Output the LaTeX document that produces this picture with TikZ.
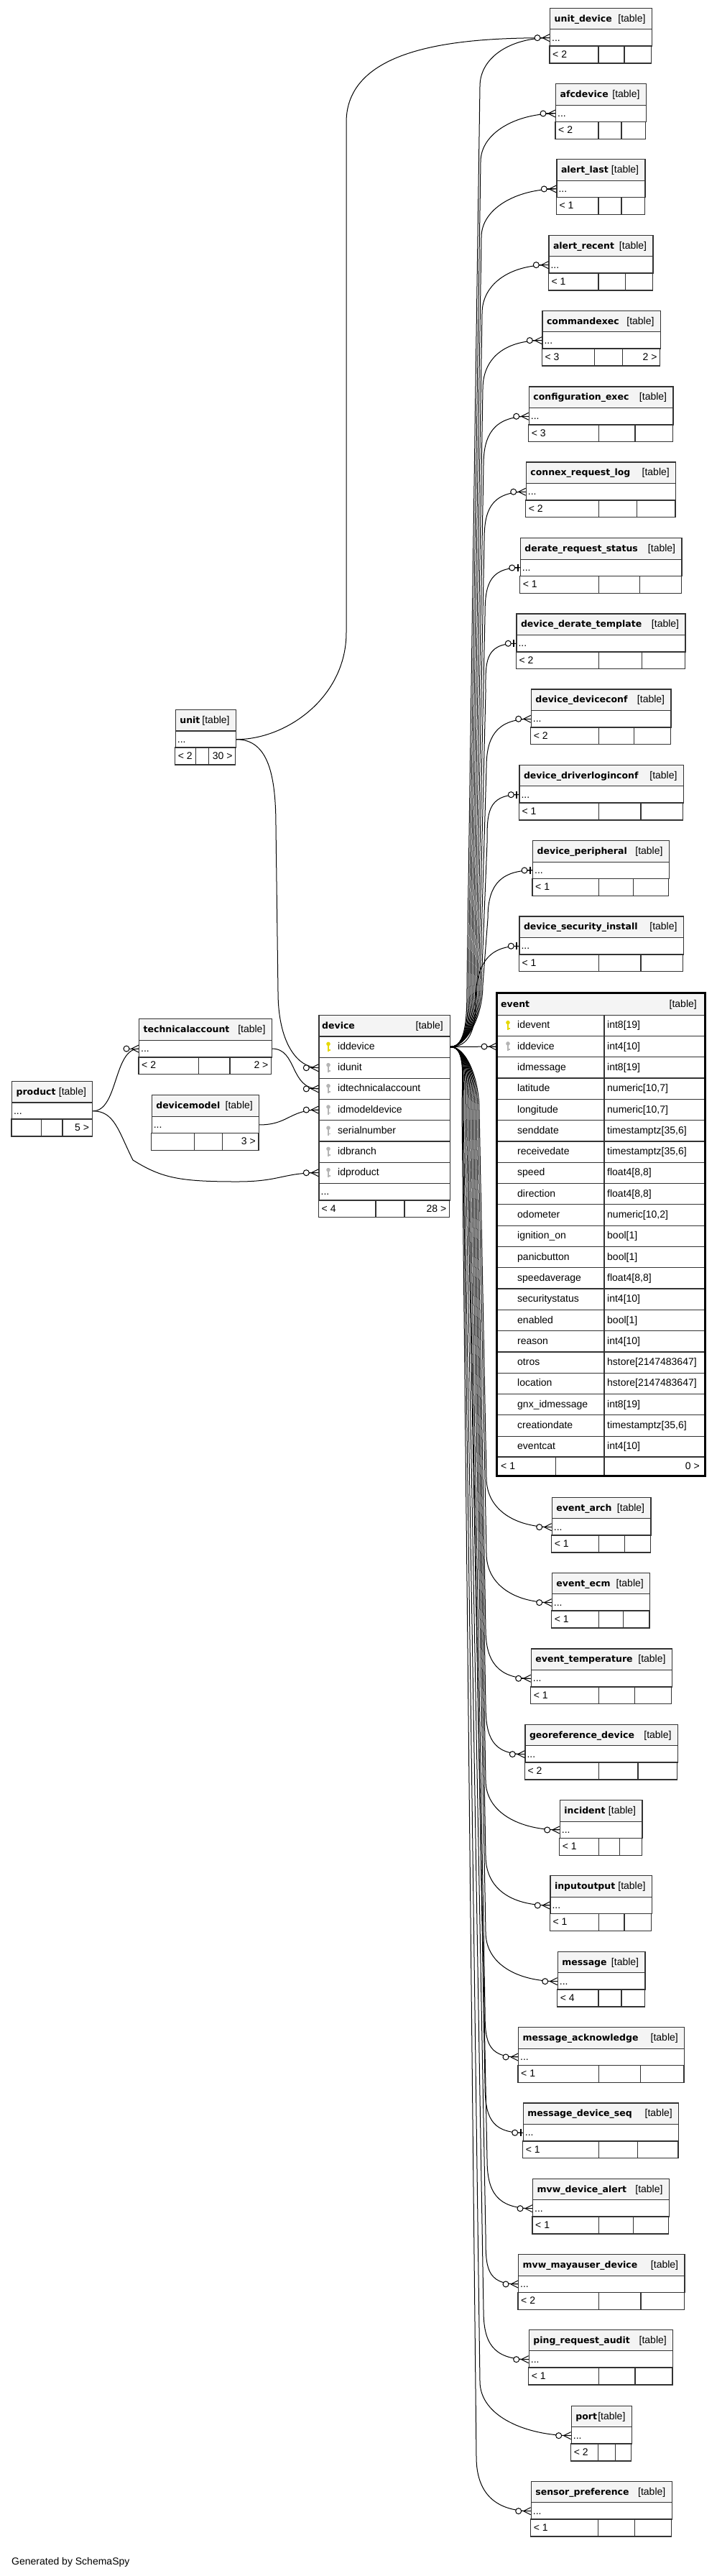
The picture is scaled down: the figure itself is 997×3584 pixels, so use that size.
\documentclass[tikz,border=0pt]{standalone}
\usepackage{fontspec}
\setmainfont{Liberation Sans}
\newfontfamily\dejavu{DejaVu Sans}
\usetikzlibrary{calc}
\definecolor{hdrgray}{HTML}{F4F4F4}
\definecolor{linegray}{HTML}{333333}
\definecolor{keyyel}{HTML}{E6D800}
\definecolor{keygray}{HTML}{B4B4B4}
\newcommand\txtf{\fontsize{14}{16}\selectfont}
\newcommand\ttlf{\dejavu\bfseries\fontsize{12.5}{15}\selectfont}
\tikzset{
  tline/.style={draw=linegray, line width=1.2pt},
  hdrbox/.style={tline, fill=hdrgray, inner sep=0pt, minimum height=29.5pt},
  rowbox/.style={tline, fill=white, inner sep=0pt, minimum height=23.7pt},
  ttl/.style={font=\ttlf, inner sep=0pt, anchor=base west},
  tg/.style={font=\txtf, inner sep=0pt, anchor=base east},
  tx/.style={font=\txtf, inner sep=0pt, anchor=base west},
  txr/.style={font=\txtf, inner sep=0pt, anchor=base east},
  cedge/.style={line width=1pt, draw=black},
}
% small table: id, title, x1, y1, x2, divider1, divider2, footer left, footer right
\newcommand\stable[9]{%
  \pgfmathsetmacro\tw{#5-#3}%
  \pgfmathsetmacro\yh{#4+19.5}%
  \pgfmathsetmacro\yr{#4+29.5}%
  \pgfmathsetmacro\yrb{#4+46.4}%
  \pgfmathsetmacro\yf{#4+53.2}%
  \pgfmathsetmacro\yfb{#4+69.7}%
  \pgfmathsetmacro\yb{#4+77.2}%
  \node[hdrbox, minimum width=\tw pt, anchor=north west] (#1-h) at (#3,#4) {};
  \node[ttl] at (#3+6.5,\yh) {#2};
  \node[tg] at (#5-8,\yh) {[table]};
  \node[rowbox, minimum width=\tw pt, anchor=north west] (#1) at (#3,\yr) {};
  \node[tx] at (#3+3,\yrb) {...};
  \draw[tline] (#3,\yf) rectangle (#6,\yb) (#6,\yf) rectangle (#7,\yb) (#7,\yf) rectangle (#5,\yb);
  \node[tx] at (#3+4,\yfb) {#8};
  \node[txr] at (#5-4,\yfb) {#9};
}
\newcommand\keyic[3]{%
  \fill[#3] (#1,#2-3.5) circle (2.8pt);
  \fill[#3] (#1-1,#2-2) rectangle (#1+1,#2+7);
  \fill[#3] (#1+1,#2+4) rectangle (#1+2.6,#2+5.6);
}
\newcommand\crowm[1]{%
  \draw[cedge] ($(#1.west)+(-13,0)$) -- (#1.west);
  \draw[cedge] ($(#1.west)+(-10,0)$) -- ($(#1.west)+(0,-5)$);
  \draw[cedge] ($(#1.west)+(-10,0)$) -- ($(#1.west)+(0,5)$);
  \draw[cedge, fill=white] ($(#1.west)+(-17,0)$) circle (4pt);
}
\newcommand\teem[1]{%
  \draw[cedge] ($(#1.west)+(-8,0)$) -- (#1.west);
  \draw[line width=2.2pt] ($(#1.west)+(-3,-5)$) -- ($(#1.west)+(-3,5)$);
  \draw[cedge, fill=white] ($(#1.west)+(-11,0)$) circle (4pt);
}
\newcommand\drow[3]{%
  \pgfmathsetmacro\drY{1441.3+29.2*(#1-1)}%
  \node[tline, fill=white, inner sep=0pt, minimum width=182.4pt, minimum height=29.2pt, anchor=north west] (device-r#1) at (443.3,\drY) {};
  \keyic{457}{\drY+14.6}{#3}
  \node[tx] at (470,\drY+19.2) {#2};
}
\newcommand\erow[3]{%
  \pgfmathsetmacro\erY{1411.5+29.3*(#1-1)}%
  \node[tline, fill=white, inner sep=0pt, minimum width=290.7pt, minimum height=29.3pt, anchor=north west] (event-r#1) at (691,\erY) {};
  \draw[tline] (841,\erY) -- (841,\erY+29.3);
  \node[tx] at (720,\erY+19.3) {#2};
  \node[tx] at (845,\erY+19.3) {#3};
}
\begin{document}
\begin{tikzpicture}[x=1pt,y=-1pt]
\fill[white] (0,0) rectangle (997,3584);
\useasboundingbox (0,0) rectangle (997,3584);

% ---------- tables ----------
\stable{t1}{unit\_device}{765}{10.7}{906.7}{833}{869}{< 2}{}
\stable{t2}{afcdevice}{773}{116}{898.7}{833}{865}{< 2}{}
\stable{t3}{alert\_last}{774.3}{221}{897.3}{833}{865}{< 1}{}
\stable{t4}{alert\_recent}{763.3}{326.7}{908.3}{833}{870.7}{< 1}{}
\stable{t5}{commandexec}{754.3}{431.7}{918.7}{827.7}{866.7}{< 3}{2 >}
\stable{t6}{configuration\_exec}{735.7}{537.3}{936.3}{833.3}{884}{< 3}{}
\stable{t7}{connex\_request\_log}{731.7}{642.3}{940}{833.3}{886.7}{< 2}{}
\stable{t8}{derate\_request\_status}{723.7}{748}{948.3}{833.3}{890.7}{< 1}{}
\stable{t9}{device\_derate\_template}{718.3}{853.3}{953.3}{833.3}{893.3}{< 2}{}
\stable{t10}{device\_deviceconf}{738.7}{958.3}{933.3}{833.3}{882.7}{< 2}{}
\stable{t11}{device\_driverloginconf}{722.3}{1063.7}{950.7}{833.3}{892}{< 1}{}
\stable{t12}{device\_peripheral}{741}{1169}{930.7}{833.3}{881.3}{< 1}{}
\stable{t13}{device\_security\_install}{722.3}{1274.3}{950.7}{833.3}{892}{< 1}{}
\stable{t15}{event\_arch}{767.7}{2082.7}{905.3}{833.3}{869.3}{< 1}{}
\stable{t16}{event\_ecm}{767.7}{2187.7}{904}{833.3}{867.7}{< 1}{}
\stable{t17}{event\_temperature}{738.7}{2293.3}{934.7}{833.3}{883.7}{< 1}{}
\stable{t18}{georeference\_device}{730.3}{2398.7}{942.7}{833.3}{888}{< 2}{}
\stable{t19}{incident}{778.7}{2504}{893.3}{833.3}{862.7}{< 1}{}
\stable{t20}{inputoutput}{765.3}{2609}{906.7}{833.3}{869}{< 1}{}
\stable{t21}{message}{775.7}{2714.7}{897.3}{833}{865}{< 4}{}
\stable{t22}{message\_acknowledge}{721}{2820}{952}{833.3}{891.7}{< 1}{}
\stable{t23}{message\_device\_seq}{727.7}{2925.3}{944}{833.3}{887.7}{< 1}{}
\stable{t24}{mvw\_device\_alert}{741}{3030.7}{930.7}{833.3}{881.3}{< 1}{}
\stable{t25}{mvw\_mayauser\_device}{721}{3136}{952.3}{833.3}{892}{< 2}{}
\stable{t26}{ping\_request\_audit}{735.7}{3240.7}{936}{833.3}{884}{< 1}{}
\stable{t27}{port}{794.7}{3346.7}{878.6}{832.8}{856.3}{< 2}{}
\stable{t28}{sensor\_preference}{738.7}{3451.7}{934.5}{832.8}{883.7}{< 1}{}
\stable{tu}{unit}{243.7}{986.8}{327.8}{272.7}{290.6}{< 2}{30 >}
\stable{ttech}{technicalaccount}{193}{1417.1}{377.6}{276.3}{320}{< 2}{2 >}
\stable{tprod}{product}{15.9}{1503.8}{128.2}{57.1}{86.9}{}{5 >}
\stable{tdm}{devicemodel}{210.6}{1523}{360}{270.6}{309.4}{}{3 >}

% device table
\node[hdrbox, minimum width=182.4pt, anchor=north west] (device-h) at (443.3,1411.8) {};
\node[ttl] at (448,1431) {device};
\node[tg] at (617,1431) {[table]};
\drow{1}{iddevice}{keyyel}
\drow{2}{idunit}{keygray}
\drow{3}{idtechnicalaccount}{keygray}
\drow{4}{idmodeldevice}{keygray}
\drow{5}{serialnumber}{keygray}
\drow{6}{idbranch}{keygray}
\drow{7}{idproduct}{keygray}
\node[rowbox, minimum width=182.4pt, minimum height=24pt, anchor=north west] (device-more) at (443.3,1645.7) {};
\node[tx] at (446.5,1662.5) {...};
\draw[tline] (443.3,1669.7) rectangle (523,1693.7) (523,1669.7) rectangle (563,1693.7) (563,1669.7) rectangle (625.7,1693.7);
\node[tx] at (447.5,1686.2) {< 4};
\node[txr] at (621.5,1686.2) {28 >};

% event table
\node[hdrbox, minimum width=290.7pt, minimum height=30.3pt, anchor=north west] (event-h) at (691,1381.2) {};
\node[ttl] at (697,1401) {event};
\node[tg] at (970,1401) {[table]};
\erow{1}{idevent}{int8[19]}
\erow{2}{iddevice}{int4[10]}
\erow{3}{idmessage}{int8[19]}
\erow{4}{latitude}{numeric[10,7]}
\erow{5}{longitude}{numeric[10,7]}
\erow{6}{senddate}{timestamptz[35,6]}
\erow{7}{receivedate}{timestamptz[35,6]}
\erow{8}{speed}{float4[8,8]}
\erow{9}{direction}{float4[8,8]}
\erow{10}{odometer}{numeric[10,2]}
\erow{11}{ignition\_on}{bool[1]}
\erow{12}{panicbutton}{bool[1]}
\erow{13}{speedaverage}{float4[8,8]}
\erow{14}{securitystatus}{int4[10]}
\erow{15}{enabled}{bool[1]}
\erow{16}{reason}{int4[10]}
\erow{17}{otros}{hstore[2147483647]}
\erow{18}{location}{hstore[2147483647]}
\erow{19}{gnx\_idmessage}{int8[19]}
\erow{20}{creationdate}{timestamptz[35,6]}
\erow{21}{eventcat}{int4[10]}
\keyic{707}{1426.15}{keyyel}
\keyic{707}{1455.45}{keygray}
\draw[tline] (691,2026.8) rectangle (773.3,2053) (773.3,2026.8) rectangle (841,2053) (841,2026.8) rectangle (981.7,2053);
\node[tx] at (697,2044.5) {< 1};
\node[txr] at (974,2044.5) {0 >};
\draw[line width=3pt, black] (691,1381.2) rectangle (981.7,2053);

% ---------- connectors ----------
\draw[cedge] (tu.east) .. controls +(70,0) and +(0,90) .. (482,880) -- (482,170) .. controls +(0,-110) and +(-110,0) .. (t1.west);
\draw[cedge] (tu.east) .. controls +(45,0) and +(0,-70) .. (384,1150) -- (387,1380) .. controls +(0,70) and +(-30,0) .. (device-r2.west);
\draw[cedge] (ttech.east) .. controls +(35,0) and +(-40,0) .. (device-r3.west);
\draw[cedge] (tprod.east) .. controls +(35,0) and +(-35,0) .. (ttech.west);
\draw[cedge] (tprod.east) .. controls +(30,0) and +(-20,-40) .. (185,1614) .. controls +(40,25) and +(-80,0) .. (330,1644) .. controls +(60,0) and +(-50,0) .. (device-r7.west);
\draw[cedge] (tdm.east) .. controls +(40,0) and +(-40,0) .. (device-r4.west);
\draw[cedge] (device-r1.east) -- (event-r2.west);
% device -> upper tables
\draw[cedge] (device-r1.east) .. controls +(22,0) and +(0,45) .. (650,1370) -- (668,120) .. controls +(0,-40) and +(-55,0) .. (t1.west);
\draw[cedge] (device-r1.east) .. controls +(22,0) and +(0,45) .. (652,1370) -- (669,225) .. controls +(0,-40) and +(-55,0) .. (t2.west);
\draw[cedge] (device-r1.east) .. controls +(22,0) and +(0,45) .. (654,1370) -- (670,330) .. controls +(0,-40) and +(-55,0) .. (t3.west);
\draw[cedge] (device-r1.east) .. controls +(22,0) and +(0,45) .. (656,1370) -- (671,436) .. controls +(0,-40) and +(-55,0) .. (t4.west);
\draw[cedge] (device-r1.east) .. controls +(22,0) and +(0,45) .. (658,1370) -- (672,541) .. controls +(0,-40) and +(-55,0) .. (t5.west);
\draw[cedge] (device-r1.east) .. controls +(22,0) and +(0,45) .. (660,1370) -- (673,647) .. controls +(0,-40) and +(-50,0) .. (t6.west);
\draw[cedge] (device-r1.east) .. controls +(22,0) and +(0,45) .. (662,1370) -- (674,752) .. controls +(0,-40) and +(-50,0) .. (t7.west);
\draw[cedge] (device-r1.east) .. controls +(22,0) and +(0,45) .. (664,1370) -- (675,857) .. controls +(0,-40) and +(-45,0) .. (t8.west);
\draw[cedge] (device-r1.east) .. controls +(22,0) and +(0,45) .. (666,1370) -- (676,963) .. controls +(0,-40) and +(-45,0) .. (t9.west);
\draw[cedge] (device-r1.east) .. controls +(22,0) and +(0,45) .. (668,1370) -- (677,1068) .. controls +(0,-40) and +(-50,0) .. (t10.west);
\draw[cedge] (device-r1.east) .. controls +(22,0) and +(0,45) .. (670,1370) -- (678,1173) .. controls +(0,-40) and +(-45,0) .. (t11.west);
\draw[cedge] (device-r1.east) .. controls +(22,0) and +(0,45) .. (672,1370) -- (679,1278) .. controls +(0,-40) and +(-50,0) .. (t12.west);
\draw[cedge] (device-r1.east) .. controls +(25,0) and +(0,40) .. (662,1395) .. controls +(0,-50) and +(-45,0) .. (t13.west);
% device -> lower tables
\draw[cedge] (device-r1.east) .. controls +(22,0) and +(0,-45) .. (667,1545) -- (677,2056) .. controls +(0,45) and +(-50,0) .. (t15.west);
\draw[cedge] (device-r1.east) .. controls +(22,0) and +(0,-45) .. (665,1545) -- (677,2161) .. controls +(0,45) and +(-50,0) .. (t16.west);
\draw[cedge] (device-r1.east) .. controls +(22,0) and +(0,-45) .. (663,1545) -- (676,2267) .. controls +(0,45) and +(-45,0) .. (t17.west);
\draw[cedge] (device-r1.east) .. controls +(22,0) and +(0,-45) .. (661,1545) -- (676,2372) .. controls +(0,45) and +(-45,0) .. (t18.west);
\draw[cedge] (device-r1.east) .. controls +(22,0) and +(0,-45) .. (659,1545) -- (676,2477) .. controls +(0,45) and +(-55,0) .. (t19.west);
\draw[cedge] (device-r1.east) .. controls +(22,0) and +(0,-45) .. (657,1545) -- (676,2582) .. controls +(0,45) and +(-55,0) .. (t20.west);
\draw[cedge] (device-r1.east) .. controls +(22,0) and +(0,-45) .. (655,1545) -- (676,2688) .. controls +(0,45) and +(-55,0) .. (t21.west);
\draw[cedge] (device-r1.east) .. controls +(22,0) and +(0,-45) .. (653,1545) -- (675,2793) .. controls +(0,45) and +(-45,0) .. (t22.west);
\draw[cedge] (device-r1.east) .. controls +(22,0) and +(0,-45) .. (651,1545) -- (675,2899) .. controls +(0,45) and +(-45,0) .. (t23.west);
\draw[cedge] (device-r1.east) .. controls +(22,0) and +(0,-45) .. (649,1545) -- (678,3004) .. controls +(0,45) and +(-50,0) .. (t24.west);
\draw[cedge] (device-r1.east) .. controls +(22,0) and +(0,-45) .. (647,1545) -- (676,3109) .. controls +(0,45) and +(-45,0) .. (t25.west);
\draw[cedge] (device-r1.east) .. controls +(22,0) and +(0,-45) .. (645,1545) -- (673,3214) .. controls +(0,45) and +(-50,0) .. (t26.west);
\draw[cedge] (device-r1.east) .. controls +(22,0) and +(0,-45) .. (644,1545) -- (668,3313) .. controls +(0,50) and +(-60,0) .. (t27.west);
\draw[cedge] (device-r1.east) .. controls +(22,0) and +(0,-45) .. (643,1545) -- (663,3418) .. controls +(0,50) and +(-50,0) .. (t28.west);

% ---------- end markers ----------
\crowm{t1}\crowm{t2}\crowm{t3}\crowm{t4}\crowm{t5}\crowm{t6}\crowm{t7}
\teem{t8}\teem{t9}\crowm{t10}\teem{t11}\teem{t12}\teem{t13}
\crowm{t15}\crowm{t16}\crowm{t17}\crowm{t18}\crowm{t19}\crowm{t20}\crowm{t21}
\crowm{t22}\teem{t23}\crowm{t24}\crowm{t25}\crowm{t26}\crowm{t27}\crowm{t28}
\crowm{device-r2}\crowm{device-r3}\crowm{device-r4}\crowm{device-r7}
\crowm{ttech}\crowm{event-r2}

\node[tx] (gen) at (16,3568) {Generated by SchemaSpy};
\end{tikzpicture}
\end{document}
